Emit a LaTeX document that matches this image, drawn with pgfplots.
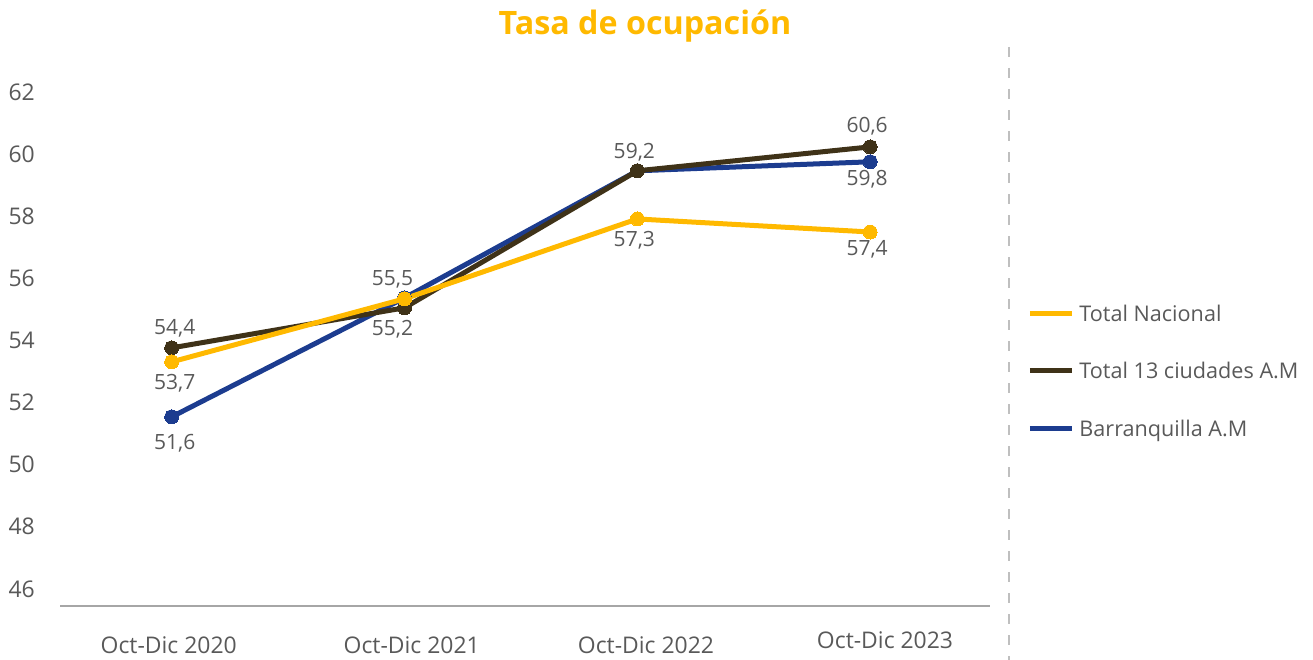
\documentclass[border=0pt]{standalone}
\usepackage{pgfplots}
\pgfplotsset{compat=1.18}
\usepackage{pgfplotstable}
\usepackage{fontspec}
\setmainfont{Open Sans}
\definecolor{cyel}{HTML}{FFB900}
\definecolor{cbrn}{HTML}{3F3218}
\definecolor{cblu}{HTML}{1C3C8F}
\definecolor{ctxt}{HTML}{595959}
\definecolor{cax}{HTML}{A6A6A6}
\definecolor{cdash}{HTML}{BFBFBF}

\pgfplotstableread{
x y lab dx dy
0 51.54 51,6 2.25 -19.9
1 55.37 {} 0 0
2 59.46 {} 0 0
3 59.75 59,8 -2.25 -13.1
}\blu
\pgfplotstableread{
x y lab dx dy
0 53.76 54,4 2.25 14.6
1 55.05 55,2 -9 -15.75
2 59.46 59,2 -2.25 14.25
3 60.23 60,6 -2.25 15.75
}\brn
\pgfplotstableread{
x y lab dx dy
0 53.31 53,7 2.25 -15.75
1 55.34 55,5 -9 14.25
2 57.91 57,3 -2.25 -16.1
3 57.49 57,4 -2.25 -12.75
}\yel

\begin{document}
\begin{tikzpicture}
\path[use as bounding box] (0pt,0pt) rectangle (984.75pt,-495pt);
\node[font=\bfseries\fontsize{24.2}{29}\selectfont, text=cyel, anchor=base, inner sep=0pt] at (483.75pt,-26.25pt) {Tasa de ocupación};
\draw[dash pattern=on 7.5pt off 8.25pt, line width=1.5pt, color=cdash] (756.75pt,-35.25pt) -- (756.75pt,-495pt);
\begin{axis}[
  at={(45pt,-454.5pt)}, anchor=south west,
  scale only axis, width=697.5pt, height=420.75pt,
  xmin=-0.48, xmax=3.515, ymin=45.45, ymax=63.51,
  axis x line*=bottom, axis y line*=left,
  axis line style={-},
  x axis line style={draw=cax, line width=1.5pt},
  y axis line style={draw=none},
  xtick={-0.013,1.031,2.037,3.064},
  xticklabels={Oct-Dic 2020,Oct-Dic 2021,Oct-Dic 2022,\raisebox{3.75pt}{Oct-Dic 2023}},
  ytick={46,48,...,62},
  major tick length=0pt,
  tick label style={font=\fontsize{17.2}{20}\selectfont, text=ctxt},
  yticklabel style={anchor=east, inner sep=0pt, xshift=-18.75pt},
  xticklabel style={anchor=base, inner sep=0pt, yshift=-35.25pt},
  /pgf/number format/assume math mode=true,
  clip=false,
  line join=round,
  point meta=explicit symbolic,
  nodes near coords,
  visualization depends on={\thisrow{dx} \as \dx},
  visualization depends on={\thisrow{dy} \as \dy},
  every node near coord/.append style={font=\fontsize{15.75}{18}\selectfont, text=ctxt, anchor=center, inner sep=0pt, xshift=\dx, yshift=\dy},
  reverse legend,
  legend image code/.code={\draw[#1, line width=3.75pt] (0pt,0pt) -- (31.5pt,0pt);},
  legend style={draw=none, fill=none, at={(rel axis cs:1.0398,0.419)}, anchor=west,
    inner sep=0pt, row sep=31.5pt, column sep=3.9pt,
    font=\fontsize{16.2}{19}\selectfont, text=ctxt,
    cells={anchor=west},
    nodes={inner sep=0pt, text height=11.6pt, text depth=0pt}},
]
\addplot[cblu, line width=3.75pt, mark=*, mark size=5.25pt, mark options={solid, fill=cblu, draw=cblu, line width=0pt}] table[x=x, y=y, meta=lab] {\blu};
\addlegendentry{Barranquilla A.M}
\addplot[cbrn, line width=3.75pt, mark=*, mark size=5.25pt, mark options={solid, fill=cbrn, draw=cbrn, line width=0pt}] table[x=x, y=y, meta=lab] {\brn};
\addlegendentry{Total 13 ciudades A.M}
\addplot[cyel, line width=3.75pt, mark=*, mark size=5.25pt, mark options={solid, fill=cyel, draw=cyel, line width=0pt}] table[x=x, y=y, meta=lab] {\yel};
\addlegendentry{Total Nacional}
\end{axis}
\end{tikzpicture}
\end{document}
